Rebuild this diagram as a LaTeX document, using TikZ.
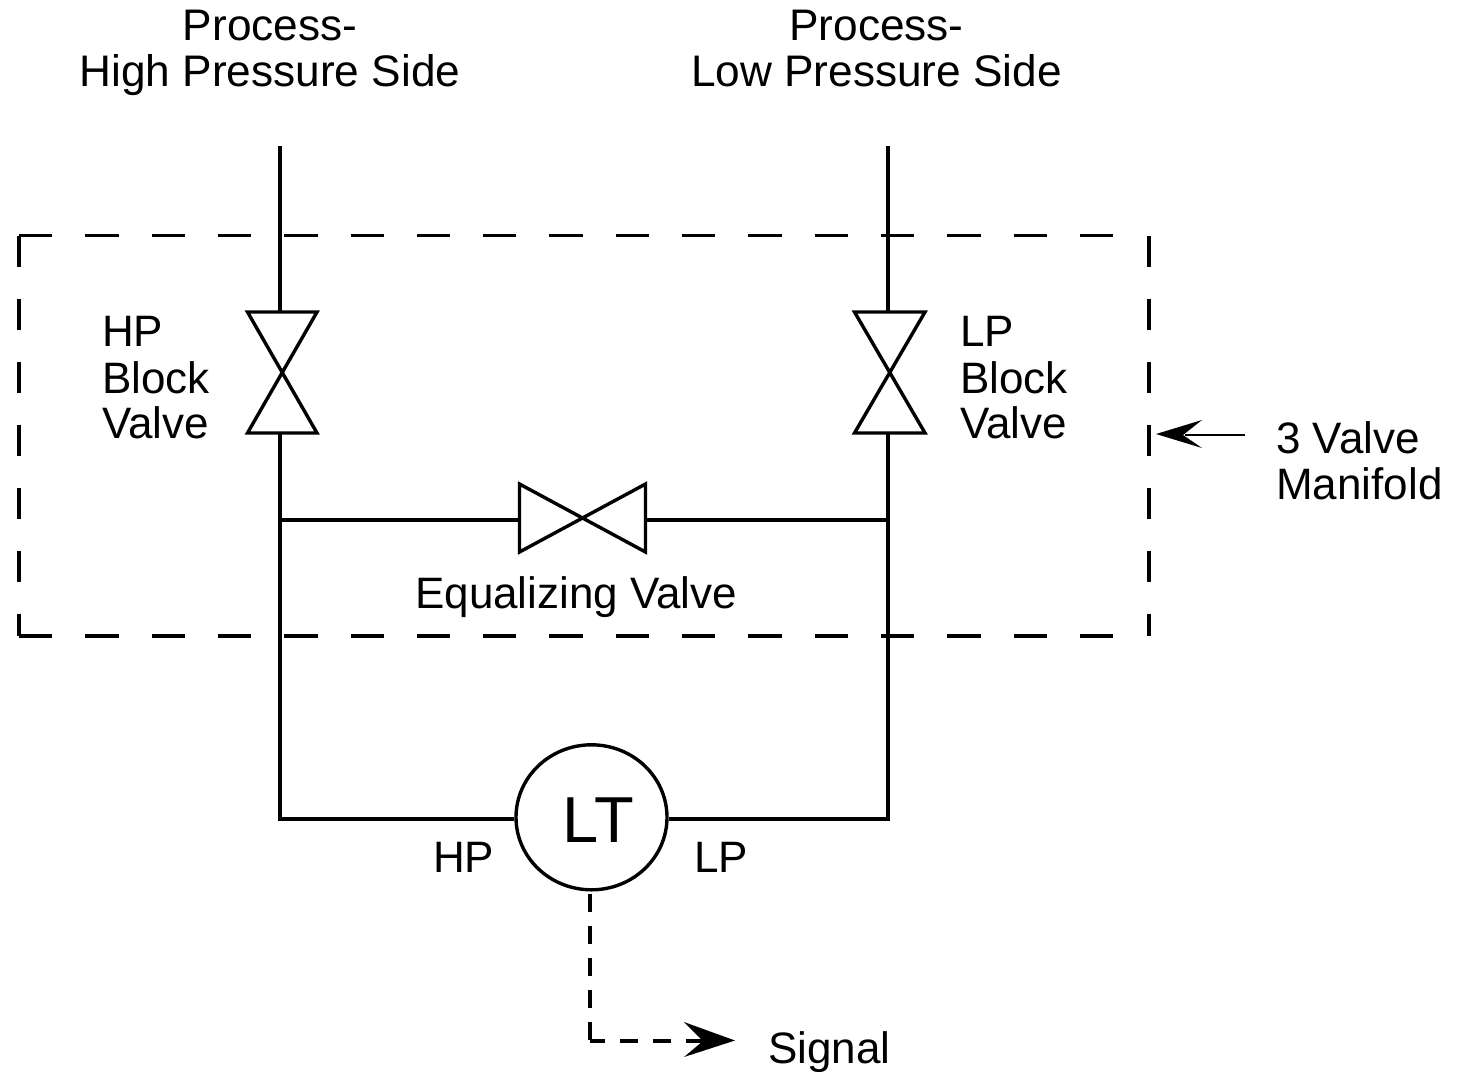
\documentclass[tikz,border=0pt]{standalone}
\usepackage{fontspec}
\setmainfont{Liberation Sans}
\usetikzlibrary{shapes.geometric}
\begin{document}
\begin{tikzpicture}[x=1pt,y=-1pt,
  pipe/.style={line width=3.8pt,line join=miter},
  valve/.style={line width=3.4pt,line join=miter},
  boxh/.style={line width=3.4pt,dash pattern=on 33.3pt off 33pt},
  boxv/.style={line width=3.4pt,dash pattern=on 31pt off 32pt},
  sigv/.style={line width=3.6pt,dash pattern=on 18pt off 14pt},
  sigh/.style={line width=3.6pt,dash pattern=on 18pt off 15pt,dash phase=3pt},
  lbl/.style={font=\fontsize{44}{46}\selectfont,inner sep=0pt,anchor=base west},
  lblm/.style={font=\fontsize{44.2}{46}\selectfont,inner sep=0pt,anchor=base}]
\useasboundingbox (0,0) rectangle (1461,1071);
\coordinate (hpTop) at (280,146);
\coordinate (lpTop) at (888,146);
\coordinate (hpV1) at (280,312);
\coordinate (hpV2) at (280,433);
\coordinate (lpV1) at (888,312);
\coordinate (lpV2) at (888,433);
\coordinate (hpJ) at (280,520);
\coordinate (lpJ) at (888,520);
\coordinate (eqL) at (520,520);
\coordinate (eqR) at (645,520);
\coordinate (hpB) at (280,819);
\coordinate (lpB) at (888,819);
\coordinate (cTL) at (19,235.5);
\coordinate (cTR) at (1149,235.5);
\coordinate (cBL) at (19,636);
\coordinate (cBR) at (1149,636);
\node[ellipse,draw,line width=3.4pt,minimum width=151pt,minimum height=145pt,inner sep=0pt] (lt) at (591.5,817.3) {};
\node[font=\fontsize{65}{65}\selectfont,inner sep=0pt,anchor=base] (ltt) at (598.5,842) {LT};
\draw[pipe] (hpTop) -- (hpV1);
\draw[pipe] (lpTop) -- (lpV1);
\draw[valve] (247.5,312) -- (317,312) -- (247.5,433) -- (317,433) -- cycle;
\draw[valve] (854.5,312) -- (925,312) -- (854.5,433) -- (925,433) -- cycle;
\draw[valve] (519.5,484) -- (519.5,552) -- (645.5,484) -- (645.5,552) -- cycle;
\draw[pipe] (hpV2) -- (hpJ) -- (hpB) -- (lt.west |- hpB);
\draw[pipe] (lpV2) -- (lpJ) -- (lpB) -- (lt.east |- lpB);
\draw[pipe] (hpJ) -- (eqL);
\draw[pipe] (eqR) -- (lpJ);
\draw[boxh,shorten >=10pt] (cTL) -- (cTR);
\draw[boxh,shorten >=10pt] (cBL) -- (cBR);
\draw[boxv] (cTL) -- (cBL);
\draw[boxv] (cTR) -- (cBR);
\coordinate (sigC) at (590,1041);
\coordinate (sigTip) at (735,1040.5);
\coordinate (sigEnd) at (705,1041);
\draw[sigv,shorten <=2pt] (lt.south -| sigC) -- (sigC);
\draw[sigh] (sigC) -- (sigEnd);
\fill (684,1022) -- (sigTip) -- (684,1057) -- (703,1041) -- cycle;
\coordinate (mTail) at (1245,435);
\coordinate (mTip) at (1156,434);
\draw[line width=2pt] (mTail) -- (1185,435);
\fill (mTip) -- (1202,420) -- (1183,435) -- (1202,448) -- cycle;
\node[lblm] (t1a) at (270,40) {Process-};
\node[lblm] (t1b) at (270,86) {High Pressure Side};
\node[lblm] (t2a) at (876.5,40) {Process-};
\node[lblm] (t2b) at (876.5,86) {Low Pressure Side};
\node[lbl] (t3) at (102,346) {HP};
\node[lbl] (t4) at (102,393) {Block};
\node[lbl] (t5) at (102,438) {Valve};
\node[lbl] (t6) at (960,346) {LP};
\node[lbl] (t7) at (960,393) {Block};
\node[lbl] (t8) at (960,438) {Valve};
\node[lbl] (t9) at (415,608) {Equalizing Valve};
\node[lbl] (t10) at (1276,453) {3 Valve};
\node[lbl] (t11) at (1276,499) {Manifold};
\node[lbl] (t12) at (433,872) {HP};
\node[lbl] (t13) at (694,872) {LP};
\node[lbl] (t14) at (768,1063) {Signal};
\end{tikzpicture}
\end{document}
